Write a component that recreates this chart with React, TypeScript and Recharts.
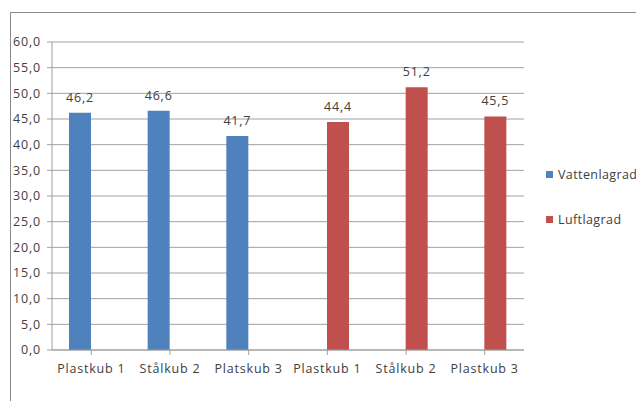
import { BarChart, Bar, XAxis, YAxis, CartesianGrid, Legend, LabelList } from "recharts";

const categories = ["Plastkub 1", "Stålkub 2", "Platskub 3", "Plastkub 1", "Stålkub 2", "Plastkub 3"];
const vattenlagrad = [46.2, 46.6, 41.7, null, null, null];
const luftlagrad = [null, null, null, 44.4, 51.2, 45.5];
const yTicks = [0, 5, 10, 15, 20, 25, 30, 35, 40, 45, 50, 55, 60];

const data = categories.map((name, i) => ({
  name,
  Vattenlagrad: vattenlagrad[i],
  Luftlagrad: luftlagrad[i],
}));

const FONT = "'Open Sans', 'Noto Sans', sans-serif";
const FS = 12.5;
const LS = 0.8;
const TEXT = "#404040";
const GRID = "#a0a0a0";
const BLUE = "#4f81bd";
const RED = "#c0504d";

const fmt = (v: any) => (v == null ? "" : Number(v).toFixed(1).replace(".", ","));

const tickStyle = { fill: TEXT, fontSize: FS, fontFamily: FONT, letterSpacing: LS };

function LegendBox() {
  const items = [
    { label: "Vattenlagrad", color: BLUE },
    { label: "Luftlagrad", color: RED },
  ];
  return (
    <div style={{ fontFamily: FONT, fontSize: 12.5, color: TEXT, letterSpacing: 0.4 }}>
      {items.map((it) => (
        <div key={it.label} style={{ display: "flex", alignItems: "center", height: 45, whiteSpace: "nowrap" }}>
          <span style={{ width: 7, height: 7, background: it.color, display: "inline-block", marginRight: 5 }} />
          {it.label}
        </div>
      ))}
    </div>
  );
}

export default function App() {
  return (
    <div style={{ position: "absolute", left: 0, top: 0, width: 636, height: 401, overflow: "hidden", background: "#fff" }}>
      <div
        style={{
          position: "absolute",
          left: 10,
          top: 12,
          width: 700,
          height: 500,
          borderLeft: "1px solid #8a8a8a",
          borderTop: "1px solid #8a8a8a",
        }}
      />
      <div style={{ position: "absolute", left: 0, top: 0 }}>
        <BarChart
          width={636}
          height={401}
          data={data}
          margin={{ top: 42, right: 112, bottom: 21, left: 10 }}
          barGap={0}
          barCategoryGap={17}
        >
          <CartesianGrid vertical={false} stroke={GRID} strokeWidth={1} />
          <XAxis
            dataKey="name"
            height={30}
            stroke={GRID}
            tickSize={5}
            tickMargin={9}
            interval={0}
            tick={tickStyle}
          />
          <YAxis
            width={42}
            domain={[0, 60]}
            ticks={yTicks}
            interval={0}
            tickFormatter={fmt}
            stroke={GRID}
            tickSize={5}
            tickMargin={6}
            tick={tickStyle}
          />
          <Legend
            layout="horizontal"
            verticalAlign="middle"
            content={() => <LegendBox />}
            wrapperStyle={{ left: 546, top: 152, width: 200 }}
          />
          <Bar dataKey="Vattenlagrad" fill={BLUE} barSize={22} isAnimationActive={false}>
            <LabelList dataKey="Vattenlagrad" position="top" offset={11} formatter={fmt} style={tickStyle} />
          </Bar>
          <Bar dataKey="Luftlagrad" fill={RED} barSize={22} isAnimationActive={false}>
            <LabelList dataKey="Luftlagrad" position="top" offset={11} formatter={fmt} style={tickStyle} />
          </Bar>
        </BarChart>
      </div>
    </div>
  );
}
